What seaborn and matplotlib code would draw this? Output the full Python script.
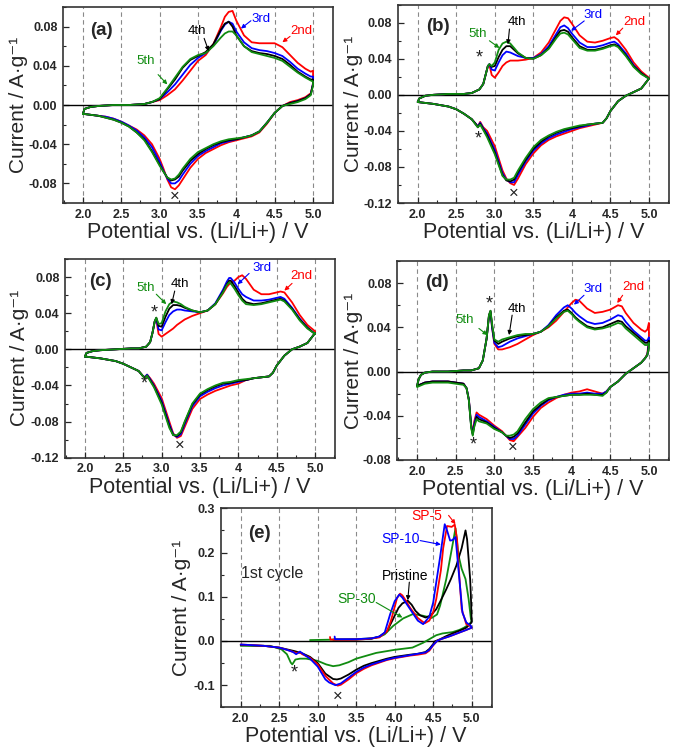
import numpy as np
import pandas as pd
import matplotlib
matplotlib.use("Agg")
import matplotlib.pyplot as plt
import seaborn as sns

sns.set_style("ticks")
plt.rcParams['font.family'] = ['Liberation Sans', 'DejaVu Sans']
plt.rcParams['axes.unicode_minus'] = False

RED, BLUE, BLACK, GREEN = '#ff0000', '#0000ff', '#000000', '#108c10'
cycle_names = ['2nd', '3rd', '4th', '5th']
cycle_colors = [RED, BLUE, BLACK, GREEN]

# ---------------- panel (a) ----------------
a_up_E = [2.00, 2.02, 2.1, 2.2, 2.4, 2.6, 2.8, 2.9, 3.0, 3.1, 3.2, 3.3, 3.4, 3.5, 3.6, 3.7, 3.8, 3.85,
          3.9, 3.95, 4.0, 4.1, 4.2, 4.3, 4.4, 4.5, 4.6, 4.7, 4.8, 4.9, 4.97, 5.0]
a_up_2nd = [-0.009, -0.004, -0.002, -0.001, 0.000, 0.000, 0.001, 0.003, 0.005, 0.010, 0.016, 0.025, 0.035, 0.045,
            0.051, 0.062, 0.080, 0.090, 0.095, 0.096, 0.086, 0.071, 0.064, 0.063, 0.063, 0.063, 0.059, 0.051,
            0.043, 0.037, 0.034, 0.035]
a_up_3rd = [-0.009, -0.004, -0.002, -0.001, 0.000, 0.000, 0.001, 0.003, 0.006, 0.013, 0.021, 0.031, 0.041, 0.048,
            0.053, 0.061, 0.076, 0.082, 0.085, 0.083, 0.075, 0.064, 0.058, 0.056, 0.055, 0.053, 0.050, 0.044,
            0.037, 0.032, 0.029, 0.029]
a_up_4th = [-0.009, -0.004, -0.002, -0.001, 0.000, 0.000, 0.001, 0.003, 0.006, 0.016, 0.026, 0.038, 0.046, 0.050,
            0.054, 0.062, 0.077, 0.083, 0.085, 0.080, 0.071, 0.060, 0.055, 0.053, 0.052, 0.050, 0.047, 0.041,
            0.034, 0.029, 0.026, 0.026]
a_up_5th = [-0.009, -0.004, -0.002, -0.001, 0.000, 0.000, 0.001, 0.003, 0.007, 0.017, 0.028, 0.039, 0.047, 0.051,
            0.053, 0.060, 0.069, 0.073, 0.075, 0.075, 0.071, 0.060, 0.054, 0.052, 0.050, 0.048, 0.045, 0.039,
            0.033, 0.028, 0.025, 0.024]
a_dn_E = [5.0, 4.97, 4.9, 4.8, 4.7, 4.6, 4.5, 4.4, 4.3, 4.2, 4.1, 4.0, 3.9, 3.8, 3.7, 3.6, 3.5, 3.4, 3.3, 3.25,
          3.2, 3.15, 3.1, 3.05, 3.0, 2.9, 2.8, 2.7, 2.6, 2.5, 2.4, 2.3, 2.2, 2.1, 2.0]
a_dn_2nd = [0.022, 0.012, 0.008, 0.005, 0.003, -0.001, -0.008, -0.019, -0.028, -0.032, -0.034, -0.036, -0.038,
            -0.041, -0.045, -0.049, -0.055, -0.064, -0.076, -0.082, -0.086, -0.084, -0.076, -0.065, -0.055,
            -0.040, -0.031, -0.025, -0.021, -0.017, -0.014, -0.012, -0.011, -0.010, -0.009]
a_dn_3rd = [0.022, 0.011, 0.007, 0.004, 0.002, -0.001, -0.008, -0.018, -0.027, -0.031, -0.033, -0.035, -0.037,
            -0.039, -0.043, -0.047, -0.052, -0.060, -0.071, -0.077, -0.080, -0.080, -0.075, -0.067, -0.058,
            -0.043, -0.033, -0.026, -0.021, -0.017, -0.014, -0.012, -0.011, -0.010, -0.009]
a_dn_4th = [0.021, 0.011, 0.007, 0.004, 0.002, -0.001, -0.008, -0.018, -0.027, -0.031, -0.033, -0.035, -0.036,
            -0.038, -0.041, -0.045, -0.050, -0.057, -0.067, -0.073, -0.076, -0.077, -0.074, -0.068, -0.061,
            -0.047, -0.035, -0.028, -0.022, -0.018, -0.015, -0.013, -0.011, -0.010, -0.009]
a_dn_5th = [0.020, 0.010, 0.006, 0.003, 0.001, -0.001, -0.008, -0.018, -0.027, -0.031, -0.033, -0.034, -0.035,
            -0.037, -0.040, -0.044, -0.048, -0.055, -0.065, -0.071, -0.075, -0.076, -0.074, -0.068, -0.062,
            -0.048, -0.036, -0.028, -0.022, -0.018, -0.015, -0.013, -0.011, -0.010, -0.009]

# ---------------- panel (b) ----------------
b_up_E = [2.0, 2.02, 2.1, 2.2, 2.4, 2.6, 2.7, 2.8, 2.85, 2.88, 2.91, 2.93, 2.96, 3.0, 3.05, 3.1, 3.15, 3.2,
          3.25, 3.3, 3.4, 3.5, 3.6, 3.7, 3.8, 3.85, 3.9, 3.95, 4.0, 4.1, 4.2, 4.3, 4.4, 4.5, 4.55, 4.6, 4.7,
          4.8, 4.9, 5.0]
b_up_2nd = [-0.008, -0.004, -0.001, 0.000, 0.001, 0.001, 0.002, 0.006, 0.012, 0.022, 0.032, 0.033, 0.022, 0.019,
            0.025, 0.032, 0.036, 0.038, 0.038, 0.038, 0.039, 0.041, 0.047, 0.058, 0.074, 0.082, 0.086, 0.085,
            0.079, 0.066, 0.059, 0.058, 0.060, 0.063, 0.064, 0.061, 0.050, 0.036, 0.026, 0.019]
b_up_3rd = [-0.008, -0.004, -0.001, 0.000, 0.001, 0.001, 0.002, 0.006, 0.012, 0.022, 0.032, 0.034, 0.028, 0.027,
            0.036, 0.044, 0.048, 0.047, 0.045, 0.043, 0.041, 0.041, 0.045, 0.054, 0.068, 0.075, 0.077, 0.074,
            0.068, 0.058, 0.053, 0.053, 0.055, 0.058, 0.059, 0.056, 0.046, 0.033, 0.024, 0.018]
b_up_4th = [-0.008, -0.004, -0.001, 0.000, 0.001, 0.001, 0.002, 0.006, 0.012, 0.022, 0.032, 0.034, 0.031, 0.032,
            0.042, 0.050, 0.054, 0.054, 0.050, 0.046, 0.041, 0.040, 0.044, 0.052, 0.065, 0.071, 0.072, 0.070,
            0.064, 0.054, 0.050, 0.050, 0.052, 0.055, 0.056, 0.054, 0.044, 0.032, 0.024, 0.018]
b_up_5th = [-0.008, -0.004, -0.001, 0.000, 0.001, 0.001, 0.002, 0.006, 0.012, 0.022, 0.032, 0.034, 0.032, 0.036,
            0.050, 0.057, 0.059, 0.057, 0.052, 0.047, 0.041, 0.040, 0.044, 0.051, 0.063, 0.068, 0.069, 0.067,
            0.062, 0.052, 0.049, 0.049, 0.051, 0.054, 0.055, 0.053, 0.043, 0.031, 0.023, 0.018]
b_dn_E = [5.0, 4.9, 4.8, 4.7, 4.6, 4.5, 4.45, 4.4, 4.3, 4.2, 4.1, 4.0, 3.9, 3.8, 3.7, 3.6, 3.5, 3.4, 3.3, 3.25,
          3.2, 3.15, 3.1, 3.0, 2.9, 2.85, 2.81, 2.78, 2.75, 2.7, 2.6, 2.5, 2.4, 2.2, 2.0]
b_dn_2nd = [0.018, 0.007, 0.003, -0.001, -0.007, -0.018, -0.026, -0.031, -0.033, -0.035, -0.037, -0.040, -0.043,
            -0.046, -0.050, -0.056, -0.065, -0.077, -0.093, -0.100, -0.098, -0.093, -0.084, -0.057, -0.040,
            -0.036, -0.030, -0.035, -0.032, -0.027, -0.021, -0.016, -0.013, -0.010, -0.008]
b_dn_3rd = [0.018, 0.007, 0.003, -0.001, -0.007, -0.018, -0.026, -0.031, -0.032, -0.034, -0.036, -0.038, -0.041,
            -0.044, -0.048, -0.054, -0.062, -0.074, -0.089, -0.097, -0.097, -0.094, -0.087, -0.061, -0.043,
            -0.037, -0.031, -0.035, -0.032, -0.027, -0.021, -0.016, -0.013, -0.010, -0.008]
b_dn_4th = [0.018, 0.007, 0.003, -0.001, -0.007, -0.018, -0.026, -0.031, -0.032, -0.033, -0.035, -0.037, -0.039,
            -0.042, -0.046, -0.052, -0.060, -0.072, -0.086, -0.094, -0.096, -0.095, -0.089, -0.064, -0.045,
            -0.038, -0.032, -0.036, -0.032, -0.027, -0.021, -0.016, -0.013, -0.010, -0.008]
b_dn_5th = [0.018, 0.007, 0.003, -0.001, -0.007, -0.018, -0.026, -0.031, -0.032, -0.033, -0.034, -0.036, -0.038,
            -0.041, -0.045, -0.050, -0.058, -0.070, -0.084, -0.092, -0.094, -0.094, -0.090, -0.066, -0.047,
            -0.039, -0.033, -0.036, -0.033, -0.027, -0.021, -0.016, -0.013, -0.010, -0.008]

# ---------------- panel (c) ----------------
c_up_E = [2.0, 2.02, 2.1, 2.2, 2.4, 2.6, 2.7, 2.8, 2.85, 2.88, 2.91, 2.93, 2.96, 3.0, 3.05, 3.1, 3.15, 3.2,
          3.25, 3.3, 3.4, 3.5, 3.6, 3.7, 3.8, 3.85, 3.88, 3.9, 3.95, 4.0, 4.05, 4.1, 4.2, 4.3, 4.4, 4.5, 4.55,
          4.6, 4.7, 4.8, 4.9, 5.0]
c_up_2nd = [-0.008, -0.004, -0.002, -0.001, 0.000, 0.001, 0.001, 0.003, 0.008, 0.018, 0.031, 0.033, 0.017, 0.014,
            0.017, 0.020, 0.023, 0.027, 0.030, 0.033, 0.037, 0.040, 0.043, 0.050, 0.062, 0.069, 0.072, 0.073,
            0.076, 0.080, 0.082, 0.078, 0.066, 0.061, 0.061, 0.063, 0.064, 0.063, 0.052, 0.038, 0.027, 0.020]
c_up_3rd = [-0.008, -0.004, -0.002, -0.001, 0.000, 0.001, 0.001, 0.003, 0.008, 0.018, 0.031, 0.034, 0.022, 0.021,
            0.030, 0.038, 0.042, 0.044, 0.044, 0.043, 0.042, 0.041, 0.043, 0.051, 0.066, 0.075, 0.079, 0.079,
            0.074, 0.067, 0.061, 0.058, 0.054, 0.054, 0.055, 0.057, 0.058, 0.056, 0.046, 0.034, 0.024, 0.017]
c_up_4th = [-0.008, -0.004, -0.002, -0.001, 0.000, 0.001, 0.001, 0.003, 0.008, 0.018, 0.031, 0.035, 0.026, 0.025,
            0.036, 0.045, 0.049, 0.049, 0.048, 0.046, 0.043, 0.041, 0.043, 0.050, 0.064, 0.072, 0.076, 0.076,
            0.070, 0.063, 0.056, 0.052, 0.050, 0.051, 0.053, 0.055, 0.056, 0.054, 0.045, 0.033, 0.024, 0.017]
c_up_5th = [-0.008, -0.004, -0.002, -0.001, 0.000, 0.001, 0.001, 0.003, 0.008, 0.018, 0.031, 0.035, 0.028, 0.029,
            0.042, 0.050, 0.053, 0.052, 0.050, 0.047, 0.043, 0.041, 0.043, 0.050, 0.063, 0.071, 0.074, 0.073,
            0.067, 0.060, 0.054, 0.050, 0.049, 0.050, 0.052, 0.054, 0.055, 0.053, 0.044, 0.032, 0.023, 0.017]
c_dn_E = [5.0, 4.9, 4.8, 4.7, 4.6, 4.5, 4.45, 4.4, 4.3, 4.2, 4.1, 4.0, 3.9, 3.8, 3.7, 3.6, 3.5, 3.4, 3.3, 3.25,
          3.2, 3.15, 3.1, 3.0, 2.9, 2.85, 2.81, 2.78, 2.75, 2.7, 2.6, 2.5, 2.4, 2.2, 2.0]
c_dn_2nd = [0.018, 0.007, 0.003, 0.000, -0.007, -0.018, -0.026, -0.030, -0.031, -0.032, -0.034, -0.038, -0.040,
            -0.043, -0.046, -0.050, -0.055, -0.066, -0.086, -0.096, -0.098, -0.093, -0.080, -0.054, -0.038,
            -0.032, -0.028, -0.031, -0.029, -0.024, -0.020, -0.016, -0.013, -0.010, -0.008]
c_dn_3rd = [0.018, 0.007, 0.003, 0.000, -0.007, -0.018, -0.026, -0.030, -0.031, -0.032, -0.034, -0.036, -0.038,
            -0.040, -0.043, -0.047, -0.052, -0.063, -0.083, -0.094, -0.097, -0.094, -0.083, -0.057, -0.040,
            -0.033, -0.028, -0.031, -0.029, -0.024, -0.020, -0.016, -0.013, -0.010, -0.008]
c_dn_4th = [0.018, 0.007, 0.003, 0.000, -0.007, -0.018, -0.026, -0.030, -0.031, -0.032, -0.034, -0.035, -0.037,
            -0.038, -0.041, -0.045, -0.050, -0.061, -0.081, -0.092, -0.096, -0.095, -0.085, -0.059, -0.041,
            -0.034, -0.029, -0.032, -0.029, -0.024, -0.020, -0.016, -0.013, -0.010, -0.008]
c_dn_5th = [0.018, 0.007, 0.003, 0.000, -0.007, -0.018, -0.026, -0.030, -0.031, -0.032, -0.033, -0.034, -0.036,
            -0.037, -0.040, -0.044, -0.049, -0.060, -0.080, -0.091, -0.095, -0.095, -0.087, -0.061, -0.042,
            -0.035, -0.029, -0.032, -0.029, -0.024, -0.020, -0.016, -0.013, -0.010, -0.008]

# ---------------- panel (d) ----------------
d_up_E = [2.0, 2.02, 2.05, 2.1, 2.2, 2.4, 2.6, 2.7, 2.8, 2.85, 2.9, 2.93, 2.95, 2.97, 3.0, 3.05, 3.1, 3.2, 3.3,
          3.4, 3.5, 3.6, 3.7, 3.8, 3.9, 3.95, 4.0, 4.05, 4.1, 4.2, 4.3, 4.4, 4.5, 4.6, 4.65, 4.7, 4.8, 4.9, 4.95,
          4.98, 5.0]
d_up_2nd = [-0.013, -0.007, -0.003, -0.001, 0.000, 0.000, 0.001, 0.001, 0.003, 0.010, 0.030, 0.050, 0.054, 0.040,
            0.025, 0.020, 0.020, 0.022, 0.025, 0.029, 0.033, 0.036, 0.040, 0.046, 0.054, 0.058, 0.062, 0.065,
            0.064, 0.057, 0.053, 0.054, 0.056, 0.060, 0.059, 0.053, 0.044, 0.038, 0.036, 0.038, 0.044]
d_up_3rd = [-0.013, -0.007, -0.003, -0.001, 0.000, 0.000, 0.001, 0.001, 0.003, 0.010, 0.030, 0.050, 0.054, 0.040,
            0.026, 0.022, 0.023, 0.027, 0.030, 0.032, 0.034, 0.036, 0.042, 0.051, 0.058, 0.060, 0.057, 0.053,
            0.050, 0.045, 0.043, 0.044, 0.047, 0.051, 0.050, 0.045, 0.037, 0.031, 0.028, 0.028, 0.031]
d_up_4th = [-0.013, -0.007, -0.003, -0.001, 0.000, 0.000, 0.001, 0.001, 0.003, 0.010, 0.030, 0.051, 0.055, 0.042,
            0.028, 0.025, 0.027, 0.030, 0.032, 0.033, 0.034, 0.036, 0.041, 0.049, 0.055, 0.056, 0.053, 0.049,
            0.046, 0.041, 0.039, 0.040, 0.043, 0.046, 0.045, 0.041, 0.035, 0.029, 0.026, 0.026, 0.028]
d_up_5th = [-0.013, -0.007, -0.003, -0.001, 0.000, 0.000, 0.001, 0.001, 0.003, 0.010, 0.030, 0.051, 0.055, 0.043,
            0.029, 0.027, 0.029, 0.031, 0.033, 0.034, 0.034, 0.036, 0.041, 0.048, 0.054, 0.055, 0.052, 0.048,
            0.045, 0.040, 0.038, 0.039, 0.041, 0.044, 0.043, 0.039, 0.033, 0.027, 0.024, 0.024, 0.026]
d_dn_E = [5.0, 4.98, 4.95, 4.9, 4.8, 4.7, 4.6, 4.5, 4.45, 4.4, 4.3, 4.2, 4.1, 4.0, 3.9, 3.8, 3.7, 3.6, 3.5, 3.4,
          3.3, 3.25, 3.2, 3.15, 3.1, 3.0, 2.9, 2.8, 2.77, 2.74, 2.72, 2.7, 2.67, 2.64, 2.6, 2.5, 2.4, 2.2, 2.1, 2.0]
d_dn_2nd = [0.030, 0.016, 0.012, 0.008, 0.003, -0.002, -0.009, -0.014, -0.018, -0.020, -0.018, -0.016, -0.018,
            -0.019, -0.021, -0.024, -0.028, -0.033, -0.041, -0.051, -0.059, -0.063, -0.062, -0.058, -0.054,
            -0.049, -0.043, -0.039, -0.037, -0.045, -0.055, -0.048, -0.025, -0.015, -0.011, -0.010, -0.009,
            -0.009, -0.010, -0.013]
d_dn_3rd = [0.026, 0.015, 0.012, 0.008, 0.003, -0.002, -0.009, -0.014, -0.018, -0.020, -0.020, -0.019, -0.020,
            -0.020, -0.021, -0.023, -0.026, -0.031, -0.038, -0.048, -0.058, -0.061, -0.061, -0.058, -0.055,
            -0.050, -0.045, -0.041, -0.039, -0.047, -0.056, -0.049, -0.025, -0.015, -0.011, -0.010, -0.009,
            -0.009, -0.010, -0.013]
d_dn_4th = [0.024, 0.015, 0.012, 0.008, 0.003, -0.002, -0.009, -0.014, -0.019, -0.021, -0.021, -0.020, -0.021,
            -0.021, -0.022, -0.023, -0.025, -0.030, -0.036, -0.046, -0.056, -0.059, -0.060, -0.058, -0.055,
            -0.051, -0.046, -0.043, -0.041, -0.049, -0.057, -0.050, -0.026, -0.015, -0.011, -0.010, -0.009,
            -0.009, -0.010, -0.013]
d_dn_5th = [0.022, 0.015, 0.012, 0.008, 0.003, -0.002, -0.009, -0.014, -0.019, -0.022, -0.021, -0.021, -0.021,
            -0.021, -0.022, -0.023, -0.024, -0.028, -0.034, -0.043, -0.054, -0.057, -0.058, -0.058, -0.055,
            -0.052, -0.047, -0.045, -0.043, -0.050, -0.058, -0.051, -0.026, -0.015, -0.012, -0.011, -0.010,
            -0.010, -0.011, -0.014]

# ---------------- panel (e): 1st cycle of each sample ----------------
e_names = ['SP-30', 'Pristine', 'SP-5', 'SP-10']
e_colors = [GREEN, BLACK, RED, BLUE]
sp30_E = [2.90, 3.2, 3.5, 3.7, 3.8, 3.87, 3.98, 4.11, 4.24, 4.37, 4.48, 4.55, 4.59, 4.67, 4.75, 4.79, 4.83,
          4.87, 4.92, 4.96, 4.99, 5.0, 4.97, 4.9, 4.84, 4.75, 4.62, 4.54, 4.45, 4.37, 4.23, 4.0, 3.76, 3.5, 3.4,
          3.28, 3.2, 3.11, 3.0, 2.85, 2.77, 2.71, 2.67, 2.65, 2.6, 2.53, 2.38, 2.0]
sp30_I = [0.002, 0.003, 0.004, 0.006, 0.009, 0.015, 0.034, 0.051, 0.061, 0.057, 0.052, 0.060, 0.080, 0.140,
          0.216, 0.255, 0.193, 0.163, 0.140, 0.095, 0.050, 0.045, 0.038, 0.030, 0.025, 0.020, 0.017, 0.013,
          0.004, -0.004, -0.015, -0.020, -0.027, -0.040, -0.048, -0.055, -0.057, -0.053, -0.045, -0.040,
          -0.040, -0.042, -0.053, -0.049, -0.030, -0.019, -0.011, -0.011]
pristine_E = [3.20, 3.5, 3.7, 3.8, 3.9, 3.98, 4.05, 4.1, 4.17, 4.22, 4.27, 4.33, 4.4, 4.47, 4.54, 4.6, 4.67,
              4.73, 4.8, 4.87, 4.92, 4.94, 4.96, 4.98, 4.99, 5.0, 4.93, 4.84, 4.75, 4.67, 4.59, 4.52, 4.5, 4.45,
              4.4, 4.3, 4.2, 4.0, 3.9, 3.7, 3.6, 3.5, 3.4, 3.3, 3.25, 3.2, 3.1, 3.0, 2.9, 2.8, 2.7, 2.6, 2.5,
              2.3, 2.0]
pristine_I = [0.003, 0.003, 0.005, 0.010, 0.022, 0.050, 0.075, 0.085, 0.091, 0.082, 0.068, 0.058, 0.053, 0.058,
              0.072, 0.092, 0.117, 0.140, 0.170, 0.210, 0.250, 0.230, 0.186, 0.140, 0.100, 0.042, 0.030, 0.023,
              0.017, 0.011, 0.004, -0.001, -0.007, -0.018, -0.025, -0.029, -0.031, -0.036, -0.040, -0.050,
              -0.056, -0.065, -0.076, -0.085, -0.087, -0.086, -0.074, -0.050, -0.036, -0.028, -0.023, -0.019,
              -0.015, -0.011, -0.009]
sp5_E = [3.16, 3.165, 3.4, 3.6, 3.8, 3.9, 3.95, 4.0, 4.03, 4.07, 4.1, 4.15, 4.2, 4.3, 4.39, 4.45, 4.5, 4.54, 4.6,
         4.63, 4.68, 4.74, 4.78, 4.81, 4.83, 4.87, 4.93, 4.99, 5.0, 4.93, 4.84, 4.72, 4.6, 4.55, 4.5, 4.45, 4.4,
         4.3, 4.2, 4.0, 3.9, 3.7, 3.6, 3.5, 3.4, 3.3, 3.26, 3.2, 3.1, 3.0, 2.9, 2.8, 2.77, 2.72, 2.6, 2.5, 2.3,
         2.0]
sp5_I = [0.009, 0.003, 0.003, 0.004, 0.008, 0.022, 0.045, 0.077, 0.097, 0.107, 0.103, 0.090, 0.075, 0.052, 0.040,
         0.046, 0.065, 0.095, 0.160, 0.210, 0.260, 0.258, 0.263, 0.230, 0.170, 0.072, 0.038, 0.033, 0.030, 0.025,
         0.019, 0.011, 0.004, 0.000, -0.010, -0.022, -0.028, -0.031, -0.033, -0.039, -0.043, -0.055, -0.063,
         -0.073, -0.087, -0.099, -0.101, -0.096, -0.079, -0.053, -0.038, -0.030, -0.026, -0.027, -0.020,
         -0.015, -0.011, -0.008]
sp10_E = [3.22, 3.225, 3.5, 3.7, 3.8, 3.87, 3.94, 4.0, 4.06, 4.1, 4.2, 4.3, 4.37, 4.45, 4.5, 4.59, 4.63, 4.65,
          4.68, 4.72, 4.75, 4.79, 4.84, 4.88, 4.93, 4.99, 5.0, 4.93, 4.84, 4.72, 4.6, 4.55, 4.5, 4.45, 4.4, 4.3,
          4.2, 4.0, 3.9, 3.7, 3.6, 3.5, 3.4, 3.3, 3.23, 3.15, 3.1, 3.0, 2.9, 2.8, 2.77, 2.72, 2.68, 2.6, 2.5,
          2.3, 2.0]
sp10_I = [0.010, 0.004, 0.004, 0.006, 0.010, 0.019, 0.060, 0.090, 0.105, 0.098, 0.072, 0.046, 0.038, 0.055,
          0.087, 0.190, 0.240, 0.264, 0.250, 0.227, 0.228, 0.235, 0.140, 0.064, 0.042, 0.034, 0.030, 0.025,
          0.019, 0.011, 0.004, 0.000, -0.009, -0.020, -0.026, -0.029, -0.032, -0.038, -0.042, -0.053, -0.060,
          -0.070, -0.083, -0.096, -0.100, -0.094, -0.087, -0.058, -0.040, -0.028, -0.024, -0.030, -0.025,
          -0.020, -0.015, -0.011, -0.008]

x_ticks = [2.0, 2.5, 3.0, 3.5, 4.0, 4.5, 5.0]
x_labels_abcd = ['2.0', '2.5', '3.0', '3.5', '4', '4.5', '5.0']
x_labels_e = ['2.0', '2.5', '3.0', '3.5', '4.0', '4.5', '5.0']

W, H = 676, 750
fig = plt.figure(figsize=(W / 100, H / 100), dpi=100)


def box(l, t, r, b):
    return [l / W, 1 - b / H, (r - l) / W, (b - t) / H]


def style_axes(ax, ylim, yticks, yfmt, yminor, xlabels, ylab_gap_px, ax_w_px):
    ax.set_xlim(1.74, 5.26)
    ax.set_ylim(*ylim)
    for xv in x_ticks:
        ax.axvline(xv, color='#8a8a8a', lw=0.8, ls=(0, (4, 3)), zorder=0)
    ax.axhline(0, color='black', lw=1.0, zorder=1)
    ax.set_xticks(x_ticks)
    ax.set_xticklabels(xlabels)
    ax.set_xticks(np.arange(1.75, 5.26, 0.25), minor=True)
    ax.set_yticks(yticks)
    ax.set_yticklabels([yfmt % v for v in yticks])
    ax.set_yticks(np.arange(ylim[0], ylim[1] + 1e-9, yminor), minor=True)
    ax.tick_params(axis='both', which='major', direction='in', length=4, width=0.9,
                   labelsize=9, top=False, right=False, pad=4)
    ax.tick_params(axis='both', which='minor', direction='in', length=2.5, width=0.8,
                   top=False, right=False)
    for lab in ax.get_xticklabels() + ax.get_yticklabels():
        lab.set_fontweight('bold')
    for s in ax.spines.values():
        s.set_color('#333333')
        s.set_linewidth(1.2)
    ax.set_xlabel('Potential vs. (Li/Li+) / V', fontsize=15.5, labelpad=1)
    ax.set_ylabel('Current / A·g⁻¹', fontsize=15, family=['Liberation Sans', 'DejaVu Sans'])
    ax.yaxis.set_label_coords(-ylab_gap_px / ax_w_px, 0.5)


def draw_cycles(ax, upE, ups, dnE, dns):
    for name, col, u, d in zip(cycle_names, cycle_colors, ups, dns):
        df = pd.DataFrame({'E': list(upE) + list(dnE), 'I': list(u) + list(d)})
        sns.lineplot(data=df, x='E', y='I', sort=False, estimator=None, color=col, lw=1.3, ax=ax)


def arrow_label(ax, text, txy, head, tail, color, fs=9.5):
    ax.text(txy[0], txy[1], text, color=color, fontsize=fs, ha='left', va='center')
    ax.annotate('', xy=head, xytext=tail,
                arrowprops=dict(arrowstyle='-|>', color=color, lw=0.8, mutation_scale=6,
                                shrinkA=0, shrinkB=0))


def marks(ax, star_pts, cross_pt):
    for sx, sy in star_pts:
        ax.text(sx, sy, '*', fontsize=13, ha='center', va='center', color='#222222')
    ax.text(cross_pt[0], cross_pt[1], '×', fontsize=12, ha='center', va='center', color='#222222')


# (a)
axa = fig.add_axes(box(63, 7, 333, 203))
draw_cycles(axa, a_up_E, [a_up_2nd, a_up_3rd, a_up_4th, a_up_5th], a_dn_E, [a_dn_2nd, a_dn_3rd, a_dn_4th, a_dn_5th])
style_axes(axa, (-0.10, 0.10), [-0.08, -0.04, 0.0, 0.04, 0.08], '%.2f', 0.02, x_labels_abcd, 35, 270)
axa.text(2.09, 0.076, '(a)', fontsize=13.5, fontweight='bold', va='center')
arrow_label(axa, '2nd', (4.70, 0.076), (4.60, 0.064), (4.70, 0.070), RED)
arrow_label(axa, '3rd', (4.20, 0.088), (4.06, 0.078), (4.19, 0.086), BLUE)
arrow_label(axa, '4th', (3.37, 0.075), (3.64, 0.055), (3.58, 0.068), BLACK)
arrow_label(axa, '5th', (2.70, 0.045), (3.10, 0.021), (2.98, 0.031), GREEN)
marks(axa, [], (3.20, -0.093))

# (b)
axb = fig.add_axes(box(397.7, 4.7, 669, 203))
draw_cycles(axb, b_up_E, [b_up_2nd, b_up_3rd, b_up_4th, b_up_5th], b_dn_E, [b_dn_2nd, b_dn_3rd, b_dn_4th, b_dn_5th])
style_axes(axb, (-0.12, 0.10), [-0.12, -0.08, -0.04, 0.0, 0.04, 0.08], '%.2f', 0.02, x_labels_abcd, 35, 271.3)
axb.text(2.11, 0.0755, '(b)', fontsize=13.5, fontweight='bold', va='center')
arrow_label(axb, '2nd', (4.67, 0.081), (4.57, 0.066), (4.66, 0.074), RED)
arrow_label(axb, '3rd', (4.15, 0.089), (3.99, 0.071), (4.16, 0.082), BLUE)
arrow_label(axb, '4th', (3.17, 0.081), (3.17, 0.056), (3.19, 0.073), BLACK)
arrow_label(axb, '5th', (2.66, 0.068), (3.06, 0.052), (2.93, 0.060), GREEN)
marks(axb, [(2.80, 0.0405), (2.79, -0.049)], (3.24, -0.109))

# (c)
axc = fig.add_axes(box(65, 259, 335, 457.7))
draw_cycles(axc, c_up_E, [c_up_2nd, c_up_3rd, c_up_4th, c_up_5th], c_dn_E, [c_dn_2nd, c_dn_3rd, c_dn_4th, c_dn_5th])
style_axes(axc, (-0.12, 0.10), [-0.12, -0.08, -0.04, 0.0, 0.04, 0.08], '%.2f', 0.02, x_labels_abcd, 36, 270)
axc.text(2.06, 0.0755, '(c)', fontsize=13.5, fontweight='bold', va='center')
arrow_label(axc, '2nd', (4.68, 0.081), (4.60, 0.065), (4.70, 0.073), RED)
arrow_label(axc, '3rd', (4.18, 0.090), (3.99, 0.072), (4.14, 0.084), BLUE)
arrow_label(axc, '4th', (3.12, 0.072), (3.13, 0.050), (3.17, 0.0645), BLACK)
arrow_label(axc, '5th', (2.67, 0.068), (3.06, 0.050), (2.93, 0.061), GREEN)
marks(axc, [(2.91, 0.0405), (2.77, -0.0387)], (3.23, -0.106))

# (d)
axd = fig.add_axes(box(397, 261, 669, 460))
draw_cycles(axd, d_up_E, [d_up_2nd, d_up_3rd, d_up_4th, d_up_5th], d_dn_E, [d_dn_2nd, d_dn_3rd, d_dn_4th, d_dn_5th])
style_axes(axd, (-0.08, 0.10), [-0.08, -0.04, 0.0, 0.04, 0.08], '%.2f', 0.02, x_labels_abcd, 34, 272)
axd.text(2.11, 0.081, '(d)', fontsize=13.5, fontweight='bold', va='center')
arrow_label(axd, '2nd', (4.65, 0.0765), (4.59, 0.062), (4.66, 0.069), RED)
arrow_label(axd, '3rd', (4.15, 0.075), (4.03, 0.0605), (4.16, 0.069), BLUE)
arrow_label(axd, '4th', (3.17, 0.057), (3.19, 0.033), (3.23, 0.051), BLACK)
arrow_label(axd, '5th', (2.50, 0.0465), (2.91, 0.033), (2.80, 0.039), GREEN)
marks(axd, [(2.94, 0.0615), (2.73, -0.066)], (3.24, -0.069))

# (e)
axe = fig.add_axes(box(220.7, 508.3, 491.7, 707.3))
for name, col, E, I in zip(e_names, e_colors, [sp30_E, pristine_E, sp5_E, sp10_E],
                           [sp30_I, pristine_I, sp5_I, sp10_I]):
    df = pd.DataFrame({'E': E, 'I': I})
    sns.lineplot(data=df, x='E', y='I', sort=False, estimator=None, color=col, lw=1.3, ax=axe)
style_axes(axe, (-0.15, 0.30), [-0.1, 0.0, 0.1, 0.2, 0.3], '%.1f', 0.05, x_labels_e, 30, 271)
axe.text(2.10, 0.243, '(e)', fontsize=13.5, fontweight='bold', va='center')
axe.text(2.00, 0.152, '1st cycle', fontsize=11.5, va='center')
arrow_label(axe, 'SP-5', (4.21, 0.282), (4.79, 0.264), (4.70, 0.284), RED, fs=10)
arrow_label(axe, 'SP-10', (3.83, 0.231), (4.60, 0.218), (4.33, 0.227), BLUE, fs=10)
arrow_label(axe, 'Pristine', (3.83, 0.148), (4.17, 0.092), (4.19, 0.133), BLACK, fs=10)
arrow_label(axe, 'SP-30', (3.26, 0.095), (4.10, 0.053), (3.76, 0.087), GREEN, fs=10)
marks(axe, [(2.70, -0.072)], (3.26, -0.125))

fig.savefig('out.png', dpi=100)
